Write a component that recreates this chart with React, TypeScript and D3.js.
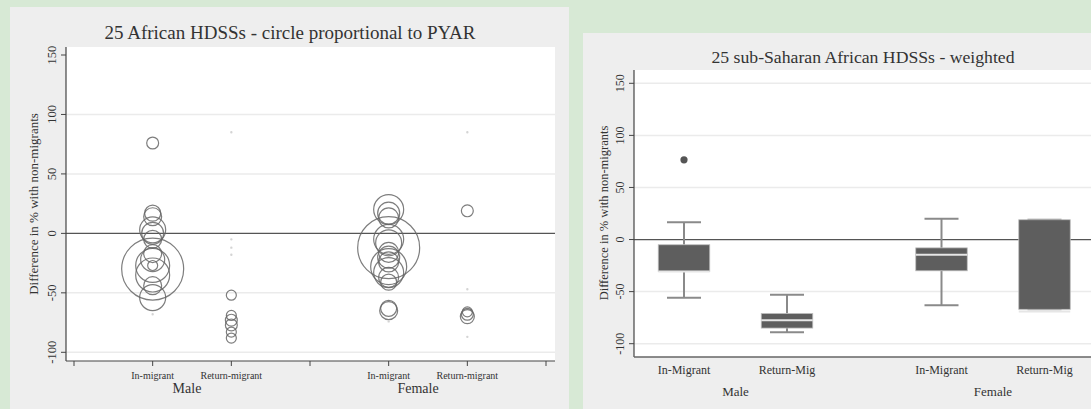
import React from "react";
import * as d3 from "d3";

// ---------- data ----------
const yTicks = [-100, -50, 0, 50, 100, 150];
const leftXTicks = [0, 1, 2, 3, 4, 5, 6];
const leftCatLabels = ["In-migrant", "Return-migrant", "In-migrant", "Return-migrant"];
const leftCatPos = [1, 2, 4, 5];
const sexLabels = ["Male", "Female"];

// circles: [difference %, PYAR weight]
const maleInMigrant: [number, number][] = [
  [76, 37], [17, 67], [14, 84], [3, 176], [0, 126], [-5, 84], [-17, 84], [-22, 150],
  [-27, 26], [-30, 1000], [-27, 300], [-35, 300], [-44, 84], [-54, 176], [-68, 0.3],
];
const maleReturnMigrant: [number, number][] = [
  [85, 0.3], [-5, 0.3], [-12, 0.3], [-18, 0.3],
  [-52, 26], [-69, 26], [-73, 37], [-77, 37], [-83, 26], [-88, 26],
];
const femaleInMigrant: [number, number][] = [
  [20, 234], [17, 126], [13, 104], [-12, 1000], [-5, 234], [-8, 176], [-16, 104],
  [-20, 126], [-24, 104], [-28, 337], [-33, 234], [-37, 104], [-41, 67], [-63, 67],
  [-65, 84], [-74, 0.3],
];
const femaleReturnMigrant: [number, number][] = [
  [85, 0.3], [19, 37], [-47, 0.3], [-66, 26], [-68, 37], [-70, 51], [-87, 0.3],
];
const leftGroups = [maleInMigrant, maleReturnMigrant, femaleInMigrant, femaleReturnMigrant];

// box plots (weighted)
const boxLabels = ["In-Migrant", "Return-Mig", "In-Migrant", "Return-Mig"];
const boxPos = [0, 1, 2.5, 3.5];
const boxLowerWhisker = [-56, -89, -63, -67];
const boxQ1 = [-30.7, -85, -30, -67];
const boxMedian = [-30.7, -77.5, -14.5, -69];
const boxQ3 = [-5, -71, -8, 19];
const boxUpperWhisker = [16.7, -53, 20, 19];
const boxOutliers: [number, number][] = [[0, 76.5]];

// ---------- layout ----------
const W = 1091, H = 409;
const FONT = "'Liberation Serif', 'DejaVu Serif', serif";
const TXT = "#333";

const L = { x0: 66, x1: 555, y0: 47, y1: 361 };
const R = { x0: 634, x1: 1091, y0: 70, y1: 357 };

const lx = d3.scaleLinear().domain([0, 6]).range([74, 546]);
const ly = d3.scaleLinear().domain([-100, 150]).range([352.3, 55]);
const rSize = d3.scaleSqrt().domain([0, 1000]).range([0, 31]);

const rx = d3.scaleLinear().domain([0, 1]).range([684, 787]);
const ry = d3.scaleLinear().domain([-100, 150]).range([343.7, 83.3]);

export default function App() {
  const boxW = rx(0.5) - rx(0);
  const capW = 34;
  return (
    <svg width={W} height={H} style={{ position: "absolute", left: 0, top: 0, display: "block" }} fontFamily={FONT}>
      <rect x={0} y={0} width={W} height={H} fill="#d7e9d5" />
      {/* ---------------- left panel ---------------- */}
      <rect x={10} y={7} width={559} height={402} fill="#eeeeee" />
      <rect x={L.x0} y={L.y0} width={L.x1 - L.x0} height={L.y1 - L.y0} fill="#ffffff" />
      <text x={290} y={39} textAnchor="middle" fontSize={19} fill={TXT}>
        25 African HDSSs - circle proportional to PYAR
      </text>
      {yTicks.filter((t) => t !== 0 && t !== 150).map((t) => (
        <line key={"lg" + t} x1={L.x0} x2={L.x1} y1={ly(t)} y2={ly(t)} stroke="#ebebeb" strokeWidth={1.5} />
      ))}
      <line x1={L.x0} x2={L.x1} y1={ly(0)} y2={ly(0)} stroke="#555" strokeWidth={1.3} />
      {leftGroups.map((g, gi) =>
        g.map(([v, w], i) => (
          <circle
            key={gi + "-" + i}
            cx={lx(leftCatPos[gi])}
            cy={ly(v)}
            r={Math.max(rSize(w), 0.6)}
            fill="none"
            stroke={w < 1 ? "#cccccc" : "#666666"}
            strokeOpacity={0.85}
            strokeWidth={1.2}
          />
        ))
      )}
      {/* axes */}
      <line x1={L.x0} x2={L.x0} y1={L.y0} y2={L.y1} stroke="#444" strokeWidth={1.2} />
      <line x1={L.x0} x2={L.x1} y1={L.y1} y2={L.y1} stroke="#444" strokeWidth={1.2} />
      {yTicks.map((t) => (
        <g key={"lyt" + t}>
          <line x1={L.x0 - 5} x2={L.x0} y1={ly(t)} y2={ly(t)} stroke="#444" strokeWidth={1} />
          <text
            transform={`translate(${56},${ly(t)}) rotate(-90)`}
            textAnchor="middle"
            fontSize={12.5}
            fill={TXT}
          >
            {t}
          </text>
        </g>
      ))}
      <text transform={`translate(38,${204}) rotate(-90)`} textAnchor="middle" fontSize={13} fill={TXT}>
        Difference in % with non-migrants
      </text>
      {leftXTicks.map((t) => (
        <line key={"lxt" + t} x1={lx(t)} x2={lx(t)} y1={L.y1} y2={L.y1 + 5} stroke="#444" strokeWidth={1} />
      ))}
      {leftCatLabels.map((s, i) => (
        <text key={"lcl" + i} x={lx(leftCatPos[i])} y={379} textAnchor="middle" fontSize={10} fill={TXT}>
          {s}
        </text>
      ))}
      <text x={187} y={393} textAnchor="middle" fontSize={14} fill={TXT}>{sexLabels[0]}</text>
      <text x={418} y={393} textAnchor="middle" fontSize={14} fill={TXT}>{sexLabels[1]}</text>

      {/* ---------------- right panel ---------------- */}
      <rect x={583} y={33} width={W - 583} height={H - 33} fill="#eeeeee" />
      <rect x={R.x0} y={R.y0} width={R.x1 - R.x0} height={R.y1 - R.y0} fill="#ffffff" />
      <text x={863} y={63} textAnchor="middle" fontSize={17.7} fill={TXT}>
        25 sub-Saharan African HDSSs - weighted
      </text>
      {yTicks.filter((t) => t !== 0).map((t) => (
        <line key={"rg" + t} x1={R.x0} x2={R.x1} y1={ry(t)} y2={ry(t)} stroke="#ebebeb" strokeWidth={1.5} />
      ))}
      <line x1={R.x0} x2={R.x1} y1={ry(0)} y2={ry(0)} stroke="#555" strokeWidth={1.3} />
      {boxPos.map((p, i) => {
        const cx = rx(p);
        return (
          <g key={"box" + i}>
            <line x1={cx} x2={cx} y1={ry(boxUpperWhisker[i])} y2={ry(boxQ3[i])} stroke="#8a8a8a" strokeWidth={2} />
            <line x1={cx} x2={cx} y1={ry(boxQ1[i])} y2={ry(boxLowerWhisker[i])} stroke="#8a8a8a" strokeWidth={2} />
            <line x1={cx - capW / 2} x2={cx + capW / 2} y1={ry(boxUpperWhisker[i])} y2={ry(boxUpperWhisker[i])} stroke="#8a8a8a" strokeWidth={2} />
            <line x1={cx - capW / 2} x2={cx + capW / 2} y1={ry(boxLowerWhisker[i])} y2={ry(boxLowerWhisker[i])} stroke="#8a8a8a" strokeWidth={2} />
            <rect
              x={cx - boxW / 2}
              y={ry(boxQ3[i])}
              width={boxW}
              height={ry(boxQ1[i]) - ry(boxQ3[i])}
              fill="#5e5e5e"
              stroke="#bdbdbd"
              strokeWidth={0.8}
            />
            <line x1={cx - boxW / 2} x2={cx + boxW / 2} y1={ry(boxMedian[i])} y2={ry(boxMedian[i])} stroke="#e6e6e6" strokeWidth={2} />
          </g>
        );
      })}
      {boxOutliers.map(([bi, v], i) => (
        <circle key={"out" + i} cx={rx(boxPos[bi])} cy={ry(v)} r={3.6} fill="#555" />
      ))}
      <line x1={R.x0} x2={R.x0} y1={R.y0} y2={R.y1} stroke="#444" strokeWidth={1.2} />
      <line x1={R.x0} x2={R.x1} y1={R.y1} y2={R.y1} stroke="#666" strokeWidth={1.5} />
      {yTicks.map((t) => (
        <g key={"ryt" + t}>
          <line x1={R.x0 - 5} x2={R.x0} y1={ry(t)} y2={ry(t)} stroke="#444" strokeWidth={1} />
          <text transform={`translate(${624},${ry(t)}) rotate(-90)`} textAnchor="middle" fontSize={12} fill={TXT}>
            {t}
          </text>
        </g>
      ))}
      <text transform={`translate(608,${213}) rotate(-90)`} textAnchor="middle" fontSize={12.5} fill={TXT}>
        Difference in % with non-migrants
      </text>
      {boxLabels.map((s, i) => (
        <text key={"bl" + i} x={rx(boxPos[i])} y={374} textAnchor="middle" fontSize={12} fill={TXT}>
          {s}
        </text>
      ))}
      <text x={(rx(0) + rx(1)) / 2} y={396} textAnchor="middle" fontSize={13} fill={TXT}>{sexLabels[0]}</text>
      <text x={(rx(2.5) + rx(3.5)) / 2} y={396} textAnchor="middle" fontSize={13} fill={TXT}>{sexLabels[1]}</text>
    </svg>
  );
}
